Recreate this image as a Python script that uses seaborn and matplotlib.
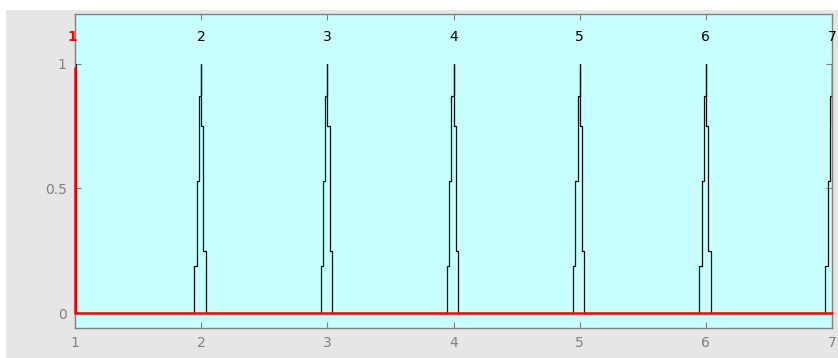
import numpy as np
import pandas as pd
import matplotlib
matplotlib.use("Agg")
import matplotlib.pyplot as plt
from matplotlib.patches import Rectangle
import seaborn as sns

# Peak centres and their labels
peak_centres = [1, 2, 3, 4, 5, 6, 7]
peak_labels = ["1", "2", "3", "4", "5", "6", "7"]

# Staircase shape of one pulse: offsets from the centre and the level held after each offset
step_offsets = [-0.053, -0.034, -0.016, 0.0, 0.0, 0.018, 0.037]
step_levels = [0.19, 0.53, 0.87, 1.0, 0.75, 0.25, 0.0]

# The first pulse sits on the left edge as a single spike
first_pulse_x = [1.0, 1.01]
first_pulse_y = [1.0, 0.0]

# Highlighted first pulse (red) drawn as an impulse with its baseline
impulse_x = [1, 1, 7]
impulse_y = [0.985, 0.0, 0.0]

x_ticks = [1, 2, 3, 4, 5, 6, 7]
y_ticks = [0, 0.5, 1]
y_tick_labels = ["0", "0.5", "1"]

# Build the pulse train as one stepped trace
xs, ys = list(first_pulse_x), list(first_pulse_y)
for c in peak_centres[1:]:
    for o, v in zip(step_offsets, step_levels):
        xs.append(c + o)
        ys.append(v)
xs.append(7.2)
ys.append(0.0)
train = pd.DataFrame({"x": xs, "y": ys})
impulse = pd.DataFrame({"x": impulse_x, "y": impulse_y})

sns.set_style("white")
fig = plt.figure(figsize=(8.38, 3.58), dpi=100, facecolor="white")
fig.patches.append(Rectangle((6 / 838, 0), 1, 1 - 10 / 358, transform=fig.transFigure,
                             facecolor="#e6e6e6", edgecolor="none", zorder=-10))
ax = fig.add_axes([75 / 838, 1 - 328 / 358, (832 - 75) / 838, (328 - 14) / 358])
ax.set_facecolor("#c8ffff")

sns.lineplot(data=train, x="x", y="y", ax=ax, sort=False, estimator=None,
             color="#111111", linewidth=0.9, drawstyle="steps-post")
sns.lineplot(data=impulse, x="x", y="y", ax=ax, sort=False, estimator=None,
             color="#ff0000", linewidth=1.8)
ax.lines[-1].set_clip_on(False)
ax.lines[-1].set_zorder(3)

for c, lab in zip(peak_centres, peak_labels):
    if lab == "1":
        ax.text(c - 0.025, 1.108, lab, color="#ff0000", fontweight="bold",
                ha="center", va="center", fontsize=10, clip_on=False)
    else:
        ax.text(c, 1.108, lab, color="black", ha="center", va="center",
                fontsize=10, clip_on=False)

ax.set_xlim(1, 7)
ax.set_ylim(-0.06, 1.2)
ax.set_xticks(x_ticks)
ax.set_xticklabels([str(t) for t in x_ticks])
ax.set_yticks(y_ticks)
ax.set_yticklabels(y_tick_labels)
ax.set_xlabel("")
ax.set_ylabel("")

grey = "#808080"
for s in ax.spines.values():
    s.set_visible(True)
    s.set_color(grey)
    s.set_linewidth(1.0)
ax.tick_params(axis="both", direction="in", length=4, width=0.8, color=grey,
               labelcolor=grey, labelsize=10, top=True, right=True,
               bottom=True, left=True)
ax.tick_params(axis="x", pad=6)
ax.tick_params(axis="y", pad=6)

fig.savefig("out.png", dpi=100, facecolor=fig.get_facecolor())
